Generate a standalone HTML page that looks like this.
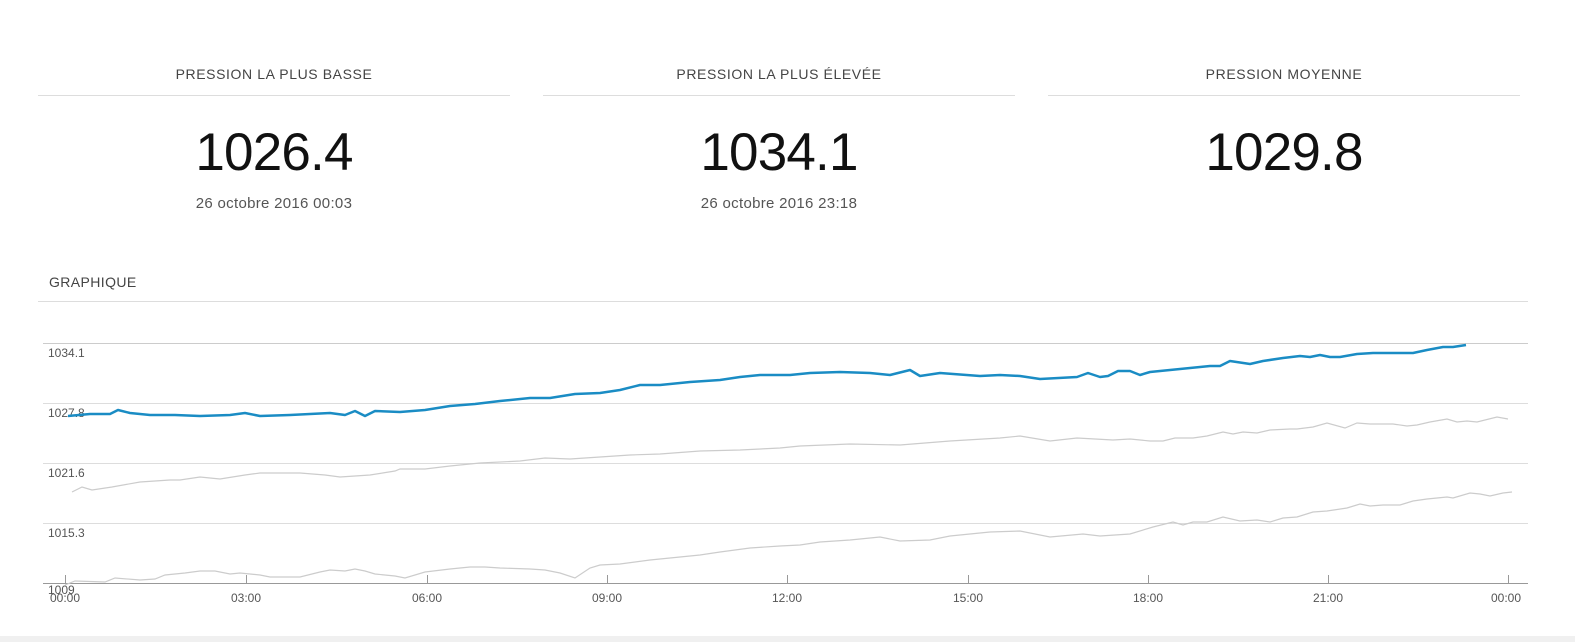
<!DOCTYPE html>
<html><head><meta charset="utf-8"><style>
body{margin:0;background:#fff;width:1575px;height:642px;overflow:hidden;font-family:"Liberation Sans","DejaVu Sans",sans-serif;position:relative}
.col{position:absolute;top:0;width:472px;text-align:center}
.t{position:absolute;top:66px;left:0;width:100%;font-size:14px;color:#444;letter-spacing:0.6px}
.sep{position:absolute;top:95px;left:0;width:100%;height:1px;background:#ddd}
.big{position:absolute;top:121px;left:0;width:100%;font-size:53px;color:#111;line-height:64px;letter-spacing:-0.8px}
.d{position:absolute;top:195px;left:0;width:100%;font-size:15px;color:#555;letter-spacing:0.3px}
</style></head><body>
<div class="col" style="left:38px"><div class="t">PRESSION LA PLUS BASSE</div><div class="sep"></div><div class="big">1026.4</div><div class="d">26 octobre 2016 00:03</div></div>
<div class="col" style="left:543px"><div class="t">PRESSION LA PLUS ÉLEVÉE</div><div class="sep"></div><div class="big">1034.1</div><div class="d">26 octobre 2016 23:18</div></div>
<div class="col" style="left:1048px"><div class="t">PRESSION MOYENNE</div><div class="sep"></div><div class="big">1029.8</div></div>
<div style="position:absolute;left:49px;top:274px;font-size:14px;color:#444;letter-spacing:0.4px">GRAPHIQUE</div>
<div style="position:absolute;left:38px;top:301px;width:1490px;height:1px;background:#ddd"></div>
<div style="position:absolute;left:0;top:636px;width:1575px;height:6px;background:#f0f0f0"></div>
<svg width="1575" height="642" style="position:absolute;left:0;top:0" font-family="Liberation Sans, sans-serif" font-size="12" fill="#555">
<g stroke="#ddd" stroke-width="1">
<line x1="43" y1="343.5" x2="1528" y2="343.5" stroke="#ccc"/>
<line x1="43" y1="403.5" x2="1528" y2="403.5"/>
<line x1="43" y1="463.5" x2="1528" y2="463.5"/>
<line x1="43" y1="523.5" x2="1528" y2="523.5"/>
</g>
<line x1="43" y1="583.5" x2="1528" y2="583.5" stroke="#999"/>
<g stroke="#999">
<line x1="65.5" y1="575" x2="65.5" y2="583"/><line x1="246.5" y1="575" x2="246.5" y2="583"/><line x1="427.5" y1="575" x2="427.5" y2="583"/><line x1="607.5" y1="575" x2="607.5" y2="583"/><line x1="787.5" y1="575" x2="787.5" y2="583"/><line x1="968.5" y1="575" x2="968.5" y2="583"/><line x1="1148.5" y1="575" x2="1148.5" y2="583"/><line x1="1328.5" y1="575" x2="1328.5" y2="583"/><line x1="1508.5" y1="575" x2="1508.5" y2="583"/>
</g>
<text x="48" y="357">1034.1</text><text x="48" y="417">1027.8</text><text x="48" y="477">1021.6</text><text x="48" y="537">1015.3</text><text x="48" y="594">1009</text>
<g text-anchor="middle">
<text x="65" y="602">00:00</text><text x="246" y="602">03:00</text><text x="427" y="602">06:00</text><text x="607" y="602">09:00</text><text x="787" y="602">12:00</text><text x="968" y="602">15:00</text><text x="1148" y="602">18:00</text><text x="1328" y="602">21:00</text><text x="1506" y="602">00:00</text>
</g>
<polyline fill="none" stroke="#ccc" stroke-width="1.2" points="65,585 75,581 105,582 115,578 140,580 155,579 165,575 185,573 200,571 215,571 230,574 240,573 260,575 270,577 300,577 320,572 330,570 345,571 355,569 365,571 375,574 395,576 405,578 425,572 450,569 470,567 485,567 500,568 530,569 545,570 560,573 575,578 590,568 600,565 620,564 650,560 680,557 700,555 720,552 750,548 780,546 800,545 820,542 850,540 880,537 900,541 930,540 950,536 990,532 1020,531 1050,537 1083,534 1100,536 1130,534 1153,527 1173,522 1183,525 1193,522 1207,522 1223,517 1240,521 1257,520 1270,522 1283,518 1297,517 1313,512 1327,511 1347,508 1360,504 1370,506 1383,505 1400,505 1413,501 1427,499 1447,497 1453,498 1470,493 1480,494 1490,496 1503,493 1512,492"/>
<polyline fill="none" stroke="#ccc" stroke-width="1.2" points="72,492 82,487 92,490 112,487 140,482 170,480 180,480 200,477 220,479 245,475 260,473 300,473 325,475 340,477 370,475 395,471 400,469 425,469 450,466 480,463 520,461 545,458 570,459 600,457 630,455 660,454 700,451 740,450 780,448 800,446 850,444 900,445 950,441 1000,438 1020,436 1050,441 1077,438 1113,440 1130,439 1150,441 1163,441 1175,438 1193,438 1207,436 1223,432 1233,434 1243,432 1257,433 1270,430 1290,429 1297,429 1313,427 1327,423 1345,428 1357,423 1370,424 1393,424 1407,426 1417,425 1430,422 1447,419 1457,422 1467,421 1477,422 1497,417 1508,419"/>
<polyline fill="none" stroke="#1a8cc4" stroke-width="2.5" stroke-linejoin="round" points="68,416 90,414 110,414 118,410 130,413 150,415 175,415 200,416 230,415 245,413 260,416 290,415 330,413 345,415 355,411 365,416 375,411 400,412 425,410 450,406 475,404 500,401 530,398 550,398 575,394 600,393 620,390 640,385 660,385 690,382 720,380 740,377 760,375 790,375 810,373 840,372 870,373 890,375 910,370 920,376 940,373 980,376 1000,375 1020,376 1040,379 1077,377 1088,373 1100,377 1108,376 1118,371 1130,371 1140,375 1150,372 1200,367 1210,366 1220,366 1230,361 1250,364 1263,361 1283,358 1300,356 1310,357 1320,355 1330,357 1340,357 1357,354 1373,353 1413,353 1427,350 1443,347 1453,347 1466,345"/>
</svg>
</body></html>
